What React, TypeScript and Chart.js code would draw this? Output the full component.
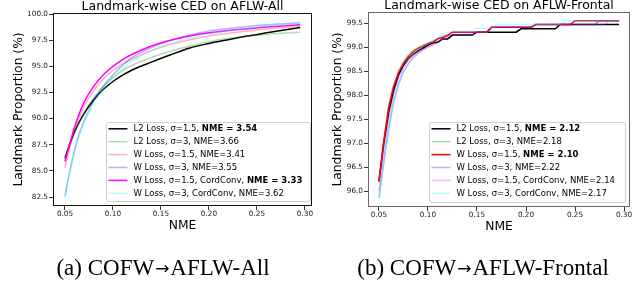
import React, { useEffect, useRef } from 'react';
import { Chart, registerables } from 'chart.js';

Chart.register(...registerables);

const FONT = '"DejaVu Sans", sans-serif';
const SERIF = '"Liberation Serif", "Times New Roman", serif';

// ---------- Panel (a): AFLW-All ----------
const nmeAll = [0.05, 0.055, 0.06, 0.065, 0.07, 0.08, 0.09, 0.10, 0.11, 0.12, 0.14, 0.16, 0.18, 0.20, 0.22, 0.24, 0.26, 0.28, 0.295];
const allL2s15 = [86.2, 87.6, 88.75, 89.7, 90.5, 91.8, 92.8, 93.55, 94.15, 94.65, 95.4, 96.1, 96.75, 97.18, 97.55, 97.9, 98.2, 98.5, 98.72];
const allL2s3 = [86.0, 87.5, 88.7, 89.7, 90.6, 92.0, 93.1, 93.9, 94.6, 95.1, 95.85, 96.45, 96.95, 97.35, 97.65, 97.88, 98.05, 98.18, 98.27];
const allWs15 = [85.3, 87.2, 88.8, 90.1, 91.2, 92.7, 93.8, 94.6, 95.2, 95.7, 96.5, 97.1, 97.55, 97.9, 98.15, 98.38, 98.56, 98.72, 98.85];
const allWs3 = [82.6, 85.0, 87.0, 88.6, 89.8, 91.7, 93.1, 94.2, 95.1, 95.85, 96.8, 97.5, 98.0, 98.38, 98.62, 98.82, 98.97, 99.08, 99.17];
const allWs15CC = [85.9, 87.6, 89.2, 90.5, 91.6, 93.1, 94.2, 95.0, 95.65, 96.15, 96.95, 97.5, 97.9, 98.2, 98.43, 98.6, 98.75, 98.88, 98.97];
const allWs3CC = [82.4, 84.8, 86.8, 88.4, 89.6, 91.5, 92.9, 94.0, 94.8, 95.5, 96.5, 97.2, 97.7, 98.1, 98.4, 98.65, 98.85, 99.0, 99.1];

const allLabelMain = [
  'L2 Loss, σ=1.5, ',
  'L2 Loss, σ=3, NME=3.66',
  'W Loss, σ=1.5, NME=3.41',
  'W Loss, σ=3, NME=3.55',
  'W Loss, σ=1.5, CordConv, ',
  'W Loss, σ=3, CordConv, NME=3.62',
];
const allLabelBold = ['NME = 3.54', '', '', '', 'NME = 3.33', ''];
const allYTicks = [82.5, 85.0, 87.5, 90.0, 92.5, 95.0, 97.5, 100.0];

// ---------- Panel (b): AFLW-Frontal ----------
const nmeFrontal = [0.05, 0.055, 0.06, 0.065, 0.07, 0.075, 0.08, 0.085, 0.09, 0.095, 0.1, 0.105, 0.11, 0.115, 0.12, 0.125, 0.13, 0.135, 0.14, 0.145, 0.15, 0.155, 0.16, 0.165, 0.17, 0.175, 0.18, 0.185, 0.19, 0.195, 0.2, 0.205, 0.21, 0.215, 0.22, 0.225, 0.23, 0.235, 0.24, 0.245, 0.25, 0.255, 0.26, 0.265, 0.27, 0.275, 0.28, 0.285, 0.29, 0.295];
const frL2s15 = [96.2, 97.0, 97.65, 98.1, 98.42, 98.62, 98.76, 98.85, 98.92, 98.98, 99.04, 99.09, 99.1, 99.17, 99.17, 99.25, 99.25, 99.25, 99.25, 99.25, 99.31, 99.31, 99.31, 99.31, 99.31, 99.31, 99.31, 99.31, 99.31, 99.38, 99.38, 99.38, 99.38, 99.38, 99.38, 99.38, 99.38, 99.47, 99.47, 99.47, 99.47, 99.47, 99.47, 99.47, 99.47, 99.47, 99.47, 99.47, 99.47, 99.47];
const frL2s3 = [96.25, 97.1, 97.8, 98.22, 98.5, 98.7, 98.84, 98.93, 98.99, 99.04, 99.08, 99.12, 99.18, 99.22, 99.26, 99.31, 99.31, 99.31, 99.31, 99.31, 99.31, 99.31, 99.31, 99.41, 99.41, 99.41, 99.41, 99.41, 99.41, 99.41, 99.41, 99.41, 99.47, 99.47, 99.47, 99.47, 99.47, 99.47, 99.47, 99.47, 99.47, 99.47, 99.47, 99.47, 99.47, 99.55, 99.55, 99.55, 99.55, 99.55];
const frWs15 = [96.2, 97.05, 97.75, 98.18, 98.47, 98.66, 98.8, 98.9, 98.97, 99.02, 99.07, 99.1, 99.17, 99.2, 99.24, 99.31, 99.31, 99.31, 99.31, 99.31, 99.31, 99.31, 99.31, 99.41, 99.41, 99.41, 99.41, 99.41, 99.41, 99.41, 99.41, 99.41, 99.47, 99.47, 99.47, 99.47, 99.47, 99.47, 99.47, 99.47, 99.55, 99.55, 99.55, 99.55, 99.55, 99.55, 99.55, 99.55, 99.55, 99.55];
const frWs3 = [95.85, 96.6, 97.3, 97.85, 98.22, 98.48, 98.65, 98.78, 98.87, 98.94, 99.0, 99.05, 99.1, 99.17, 99.17, 99.25, 99.25, 99.25, 99.25, 99.25, 99.31, 99.31, 99.31, 99.41, 99.41, 99.41, 99.41, 99.41, 99.41, 99.41, 99.41, 99.41, 99.47, 99.47, 99.47, 99.47, 99.47, 99.47, 99.47, 99.47, 99.47, 99.47, 99.47, 99.47, 99.47, 99.55, 99.55, 99.55, 99.55, 99.55];
const frWs15CC = [96.0, 96.8, 97.5, 98.0, 98.35, 98.57, 98.72, 98.82, 98.9, 98.96, 99.02, 99.05, 99.12, 99.17, 99.2, 99.31, 99.31, 99.31, 99.31, 99.31, 99.31, 99.31, 99.31, 99.41, 99.41, 99.41, 99.41, 99.41, 99.41, 99.41, 99.41, 99.41, 99.47, 99.47, 99.47, 99.47, 99.47, 99.47, 99.47, 99.47, 99.47, 99.47, 99.47, 99.47, 99.47, 99.47, 99.47, 99.55, 99.55, 99.55];
const frWs3CC = [95.85, 96.65, 97.35, 97.9, 98.28, 98.55, 98.74, 98.87, 98.96, 99.03, 99.08, 99.14, 99.2, 99.25, 99.3, 99.33, 99.33, 99.33, 99.33, 99.33, 99.39, 99.39, 99.39, 99.39, 99.47, 99.47, 99.47, 99.47, 99.47, 99.47, 99.47, 99.47, 99.47, 99.47, 99.47, 99.47, 99.47, 99.47, 99.55, 99.55, 99.55, 99.55, 99.55, 99.55, 99.55, 99.55, 99.55, 99.55, 99.55, 99.55];

const frLabelMain = [
  'L2 Loss, σ=1.5, ',
  'L2 Loss, σ=3, NME=2.18',
  'W Loss, σ=1.5, ',
  'W Loss, σ=3, NME=2.22',
  'W Loss, σ=1.5, CordConv, NME=2.14',
  'W Loss, σ=3, CordConv, NME=2.17',
];
const frLabelBold = ['NME = 2.12', '', 'NME = 2.10', '', '', ''];
const frYTicks = [96.0, 96.5, 97.0, 97.5, 98.0, 98.5, 99.0, 99.5];

const xTicks = [0.05, 0.10, 0.15, 0.20, 0.25, 0.30];

const allColors = ['#000000', 'rgba(0,128,0,0.3)', 'rgba(255,0,0,0.3)', 'rgba(0,0,255,0.3)', '#ff00ff', 'rgba(0,255,255,0.3)'];
const frColors = ['#000000', 'rgba(0,128,0,0.3)', '#ff0000', 'rgba(0,0,255,0.3)', 'rgba(255,0,255,0.3)', 'rgba(0,255,255,0.3)'];

type PanelCfg = {
  left: number;
  title: string;
  caption: [string, string, string];
  xs: number[];
  series: number[][];
  colors: string[];
  labelMain: string[];
  labelBold: string[];
  yTicks: number[];
  xMin: number; xMax: number; yMin: number; yMax: number;
  smooth: boolean;
  padTop: number; padRight: number; yAxisW: number; xAxisH: number;
  frameColor: string;
  legendBox: [number, number, number, number];
  yTitleX: number;
  xTitleY: number;
};

function makeDecor(cfg: PanelCfg) {
  return {
    id: 'decor',
    afterDraw(chart: any) {
      const ctx: CanvasRenderingContext2D = chart.ctx;
      const a = chart.chartArea;
      ctx.save();
      // frame
      ctx.strokeStyle = cfg.frameColor;
      ctx.lineWidth = 1;
      ctx.strokeRect(a.left + 0.5, a.top + 0.5, a.right - a.left - 1, a.bottom - a.top - 1);
      const cx = (a.left + a.right) / 2;
      // title
      ctx.fillStyle = '#000';
      ctx.font = `12.5px ${FONT}`;
      ctx.textAlign = 'center';
      ctx.textBaseline = 'alphabetic';
      ctx.fillText(cfg.title, cx, a.top - 3.5);
      // x title
      ctx.font = `12.3px ${FONT}`;
      ctx.textBaseline = 'middle';
      ctx.fillText('NME', cx, cfg.xTitleY);
      // y title
      ctx.save();
      ctx.translate(cfg.yTitleX, (a.top + a.bottom) / 2);
      ctx.rotate(-Math.PI / 2);
      ctx.fillText('Landmark Proportion (%)', 0, 0);
      ctx.restore();
      // legend
      const [bl, bt, br, bb] = cfg.legendBox;
      ctx.beginPath();
      const r = 2.5;
      ctx.moveTo(bl + r + 0.5, bt + 0.5);
      ctx.arcTo(br + 0.5, bt + 0.5, br + 0.5, bb + 0.5, r);
      ctx.arcTo(br + 0.5, bb + 0.5, bl + 0.5, bb + 0.5, r);
      ctx.arcTo(bl + 0.5, bb + 0.5, bl + 0.5, bt + 0.5, r);
      ctx.arcTo(bl + 0.5, bt + 0.5, br + 0.5, bt + 0.5, r);
      ctx.closePath();
      ctx.fillStyle = 'rgba(255,255,255,0.8)';
      ctx.fill();
      ctx.strokeStyle = '#d0d0d0';
      ctx.stroke();
      ctx.textAlign = 'left';
      ctx.textBaseline = 'middle';
      for (let i = 0; i < cfg.labelMain.length; i++) {
        const y = bt + 6.8 + i * 12.9;
        ctx.strokeStyle = cfg.colors[i];
        ctx.lineWidth = 1.5;
        ctx.beginPath();
        ctx.moveTo(bl + 2.5, y);
        ctx.lineTo(bl + 21.5, y);
        ctx.stroke();
        ctx.fillStyle = '#000';
        ctx.font = `8.5px ${FONT}`;
        const tx = bl + 27.5;
        ctx.fillText(cfg.labelMain[i], tx, y);
        if (cfg.labelBold[i]) {
          const w = ctx.measureText(cfg.labelMain[i]).width;
          ctx.font = `bold 8.5px ${FONT}`;
          ctx.fillText(cfg.labelBold[i], tx + w, y);
        }
      }
      // caption: text + arrow + text
      const [c1, arrow, c2] = cfg.caption;
      const capFont = `23px ${SERIF}`;
      const arrFont = `17px "DejaVu Sans", sans-serif`;
      ctx.textAlign = 'left';
      ctx.textBaseline = 'alphabetic';
      ctx.fillStyle = '#000';
      ctx.font = capFont;
      const w1 = ctx.measureText(c1).width;
      const w3 = ctx.measureText(c2).width;
      ctx.font = arrFont;
      const w2 = ctx.measureText(arrow).width;
      const gap = 1;
      const total = w1 + w2 + w3 + 2 * gap;
      let x0 = 163 - total / 2;
      ctx.font = capFont;
      ctx.fillText(c1, x0, 275);
      x0 += w1 + gap;
      ctx.font = arrFont;
      ctx.fillText(arrow, x0, 274);
      x0 += w2 + gap;
      ctx.font = capFont;
      ctx.fillText(c2, x0, 275);
      ctx.restore();
    },
  };
}

function Panel({ cfg }: { cfg: PanelCfg }) {
  const ref = useRef<HTMLCanvasElement>(null);
  useEffect(() => {
    const n = cfg.series.length;
    const chart = new Chart(ref.current as HTMLCanvasElement, {
      type: 'line',
      data: {
        datasets: cfg.series.map((s, i) => ({
          label: cfg.labelMain[i] + cfg.labelBold[i],
          data: s.map((v, j) => ({ x: cfg.xs[j], y: v })),
          borderColor: cfg.colors[i],
          backgroundColor: cfg.colors[i],
          borderWidth: 1.5,
          pointRadius: 0,
          fill: false,
          order: n - i,
          cubicInterpolationMode: cfg.smooth ? 'monotone' : 'default',
          tension: 0,
        })),
      },
      options: {
        animation: false,
        responsive: false,
        devicePixelRatio: 1,
        layout: { padding: { top: cfg.padTop, right: cfg.padRight, left: 0, bottom: 0 } },
        plugins: { legend: { display: false }, title: { display: false }, tooltip: { enabled: false } },
        scales: {
          x: {
            type: 'linear',
            min: cfg.xMin,
            max: cfg.xMax,
            afterBuildTicks: (scale: any) => { scale.ticks = xTicks.map((v) => ({ value: v })); },
            afterFit: (scale: any) => { scale.height = cfg.xAxisH; },
            ticks: {
              autoSkip: false,
              maxRotation: 0,
              padding: 0,
              color: '#222',
              font: { family: FONT, size: 7.3 },
              callback: (v: any) => Number(v).toFixed(2),
            },
            grid: { drawOnChartArea: false, drawTicks: true, tickLength: 4, color: '#333' },
            border: { display: false },
          },
          y: {
            type: 'linear',
            min: cfg.yMin,
            max: cfg.yMax,
            afterBuildTicks: (scale: any) => { scale.ticks = cfg.yTicks.map((v) => ({ value: v })); },
            afterFit: (scale: any) => { scale.width = cfg.yAxisW; },
            ticks: {
              autoSkip: false,
              padding: 1,
              color: '#222',
              font: { family: FONT, size: 7.3 },
              callback: (v: any) => Number(v).toFixed(1),
            },
            grid: { drawOnChartArea: false, drawTicks: true, tickLength: 4, color: '#333' },
            border: { display: false },
          },
        },
      },
      plugins: [makeDecor(cfg)],
    } as any);
    return () => chart.destroy();
  }, []);
  return (
    <canvas
      ref={ref}
      width={320}
      height={284}
      style={{ position: 'absolute', left: cfg.left, top: 0, width: 320, height: 284 }}
    />
  );
}

const panelA: PanelCfg = {
  left: 0,
  title: 'Landmark-wise CED on AFLW-All',
  caption: ['(a) COFW', '→', 'AFLW-All'],
  xs: nmeAll,
  series: [allL2s15, allL2s3, allWs15, allWs3, allWs15CC, allWs3CC],
  colors: allColors,
  labelMain: allLabelMain,
  labelBold: allLabelBold,
  yTicks: allYTicks,
  xMin: 0.0375, xMax: 0.3073, yMin: 81.64, yMax: 100.1,
  smooth: true,
  padTop: 13, padRight: 8, yAxisW: 53, xAxisH: 78,
  frameColor: '#111',
  legendBox: [106, 122, 310, 201],
  yTitleX: 19,
  xTitleY: 226,
};

const panelB: PanelCfg = {
  left: 320,
  title: 'Landmark-wise CED on AFLW-Frontal',
  caption: ['(b) COFW', '→', 'AFLW-Frontal'],
  xs: nmeFrontal,
  series: [frL2s15, frL2s3, frWs15, frWs3, frWs15CC, frWs3CC],
  colors: frColors,
  labelMain: frLabelMain,
  labelBold: frLabelBold,
  yTicks: frYTicks,
  xMin: 0.0388, xMax: 0.3061, yMin: 95.667, yMax: 99.73,
  smooth: false,
  padTop: 12, padRight: 10, yAxisW: 48, xAxisH: 77,
  frameColor: '#666',
  legendBox: [109, 122, 305, 202],
  yTitleX: 17.5,
  xTitleY: 227,
};

export default function App() {
  return (
    <div style={{ position: 'fixed', left: 0, top: 0, width: 640, height: 284, background: '#fff' }}>
      <Panel cfg={panelA} />
      <Panel cfg={panelB} />
    </div>
  );
}
